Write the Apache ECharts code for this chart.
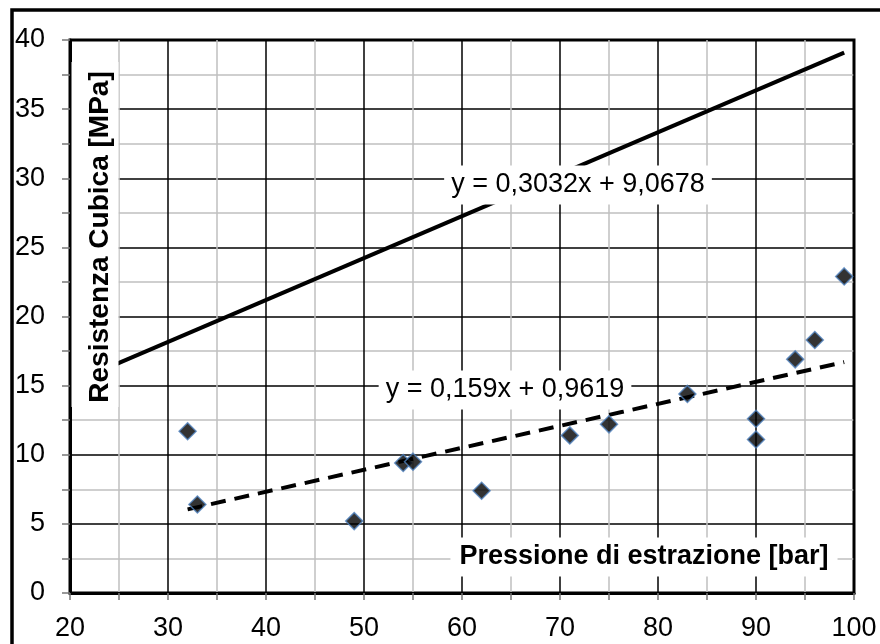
<!DOCTYPE html>
<html>
<head>
<meta charset="utf-8">
<script src="https://cdn.jsdelivr.net/npm/echarts@6/dist/echarts.min.js"></script>
<style>
  html, body { margin: 0; padding: 0; background: #fff; }
  #chart { width: 880px; height: 644px; }
</style>
</head>
<body>
<div id="chart"></div>
<script>
// punti misurati
var pressione = [32, 33, 49, 54, 55, 62, 71, 75, 83, 90, 90, 94, 96, 99];
var resistenza = [11.7, 6.4, 5.2, 9.4, 9.5, 7.4, 11.4, 12.2, 14.4, 12.6, 11.1, 16.9, 18.3, 22.9];

// estremi delle linee di tendenza
var lineaContinuaX = [20, 99];
var lineaContinuaY = [15.13, 39.09];
var lineaTratteggiataX = [32, 99];
var lineaTratteggiataY = [6.05, 16.70];

var eqContinua = "y = 0,3032x + 9,0678";
var eqTratteggiata = "y = 0,159x + 0,9619";
var titoloX = "Pressione di estrazione [bar]";
var titoloY = "Resistenza Cubica [MPa]";

function coppie(xs, ys) {
  var out = [];
  for (var i = 0; i < xs.length; i++) out.push([xs[i], ys[i]]);
  return out;
}

var chart = echarts.init(document.getElementById("chart"));
var font = "Liberation Sans, Arial, sans-serif";

var option = {
  backgroundColor: "#fff",
  animation: false,
  grid: {
    left: 70, top: 40, right: 26, bottom: 51,
    show: true,
    borderColor: "#000",
    borderWidth: 3
  },
  xAxis: {
    type: "value",
    min: 20, max: 100, interval: 10,
    axisLine: { show: true, onZero: false, lineStyle: { color: "#000", width: 3 } },
    axisTick: { show: true, inside: false, length: 7, lineStyle: { color: "#777", width: 1.5 } },
    minorTick: { show: true, splitNumber: 2, length: 7, lineStyle: { color: "#777", width: 1.5 } },
    splitLine: { show: true, lineStyle: { color: "#000", width: 1.5 } },
    minorSplitLine: { show: true, lineStyle: { color: "#c0c0c0", width: 1.5 } },
    axisLabel: { color: "#000", fontSize: 27, fontFamily: font, margin: 22 }
  },
  yAxis: {
    type: "value",
    min: 0, max: 40, interval: 5,
    axisLine: { show: true, onZero: false, lineStyle: { color: "#000", width: 3 } },
    axisTick: { show: true, inside: false, length: 8, lineStyle: { color: "#777", width: 1.5 } },
    minorTick: { show: true, splitNumber: 2, length: 8, lineStyle: { color: "#777", width: 1.5 } },
    splitLine: { show: true, lineStyle: { color: "#000", width: 1.5 } },
    minorSplitLine: { show: true, lineStyle: { color: "#c0c0c0", width: 1.5 } },
    axisLabel: { color: "#000", fontSize: 27, fontFamily: font, margin: 25 }
  },
  series: [
    {
      type: "line",
      data: coppie(lineaContinuaX, lineaContinuaY),
      showSymbol: false,
      lineStyle: { color: "#000", width: 4 },
      z: 3
    },
    {
      type: "line",
      data: coppie(lineaTratteggiataX, lineaTratteggiataY),
      showSymbol: false,
      lineStyle: { color: "#000", width: 4, type: [15, 9] },
      z: 3
    },
    {
      type: "scatter",
      data: coppie(pressione, resistenza),
      symbol: "diamond",
      symbolSize: 17,
      itemStyle: { color: "#000", borderColor: "#4f81bd", borderWidth: 1.5 },
      z: 4
    }
  ],
  graphic: [
    // cornice esterna
    {
      type: "rect", z: 100,
      shape: { x: 12, y: 10, width: 900, height: 700 },
      style: { fill: null, stroke: "#000", lineWidth: 3.5 }
    },
    {
      type: "text", z: 100,
      x: 578, y: 185,
      style: {
        text: eqContinua, font: "27px " + font, fill: "#000",
        align: "center", verticalAlign: "middle",
        backgroundColor: "#fff", padding: [6, 7]
      }
    },
    {
      type: "text", z: 100,
      x: 505, y: 390,
      style: {
        text: eqTratteggiata, font: "27px " + font, fill: "#000",
        align: "center", verticalAlign: "middle",
        backgroundColor: "#fff", padding: [6, 7]
      }
    },
    {
      type: "text", z: 100,
      x: 644, y: 557,
      style: {
        text: titoloX, font: "bold 27px " + font, fill: "#000",
        align: "center", verticalAlign: "middle",
        backgroundColor: "#fff", padding: [6, 9]
      }
    },
    // sfondo bianco del titolo verticale
    {
      type: "rect", z: 99,
      shape: { x: 71.5, y: 62, width: 47, height: 345 },
      style: { fill: "#fff" }
    },
    {
      type: "text", z: 100,
      x: 100, y: 237,
      rotation: Math.PI / 2,
      style: {
        text: titoloY, font: "bold 28px " + font, fill: "#000",
        align: "center", verticalAlign: "middle"
      }
    }
  ]
};

chart.setOption(option);
</script>
</body>
</html>
